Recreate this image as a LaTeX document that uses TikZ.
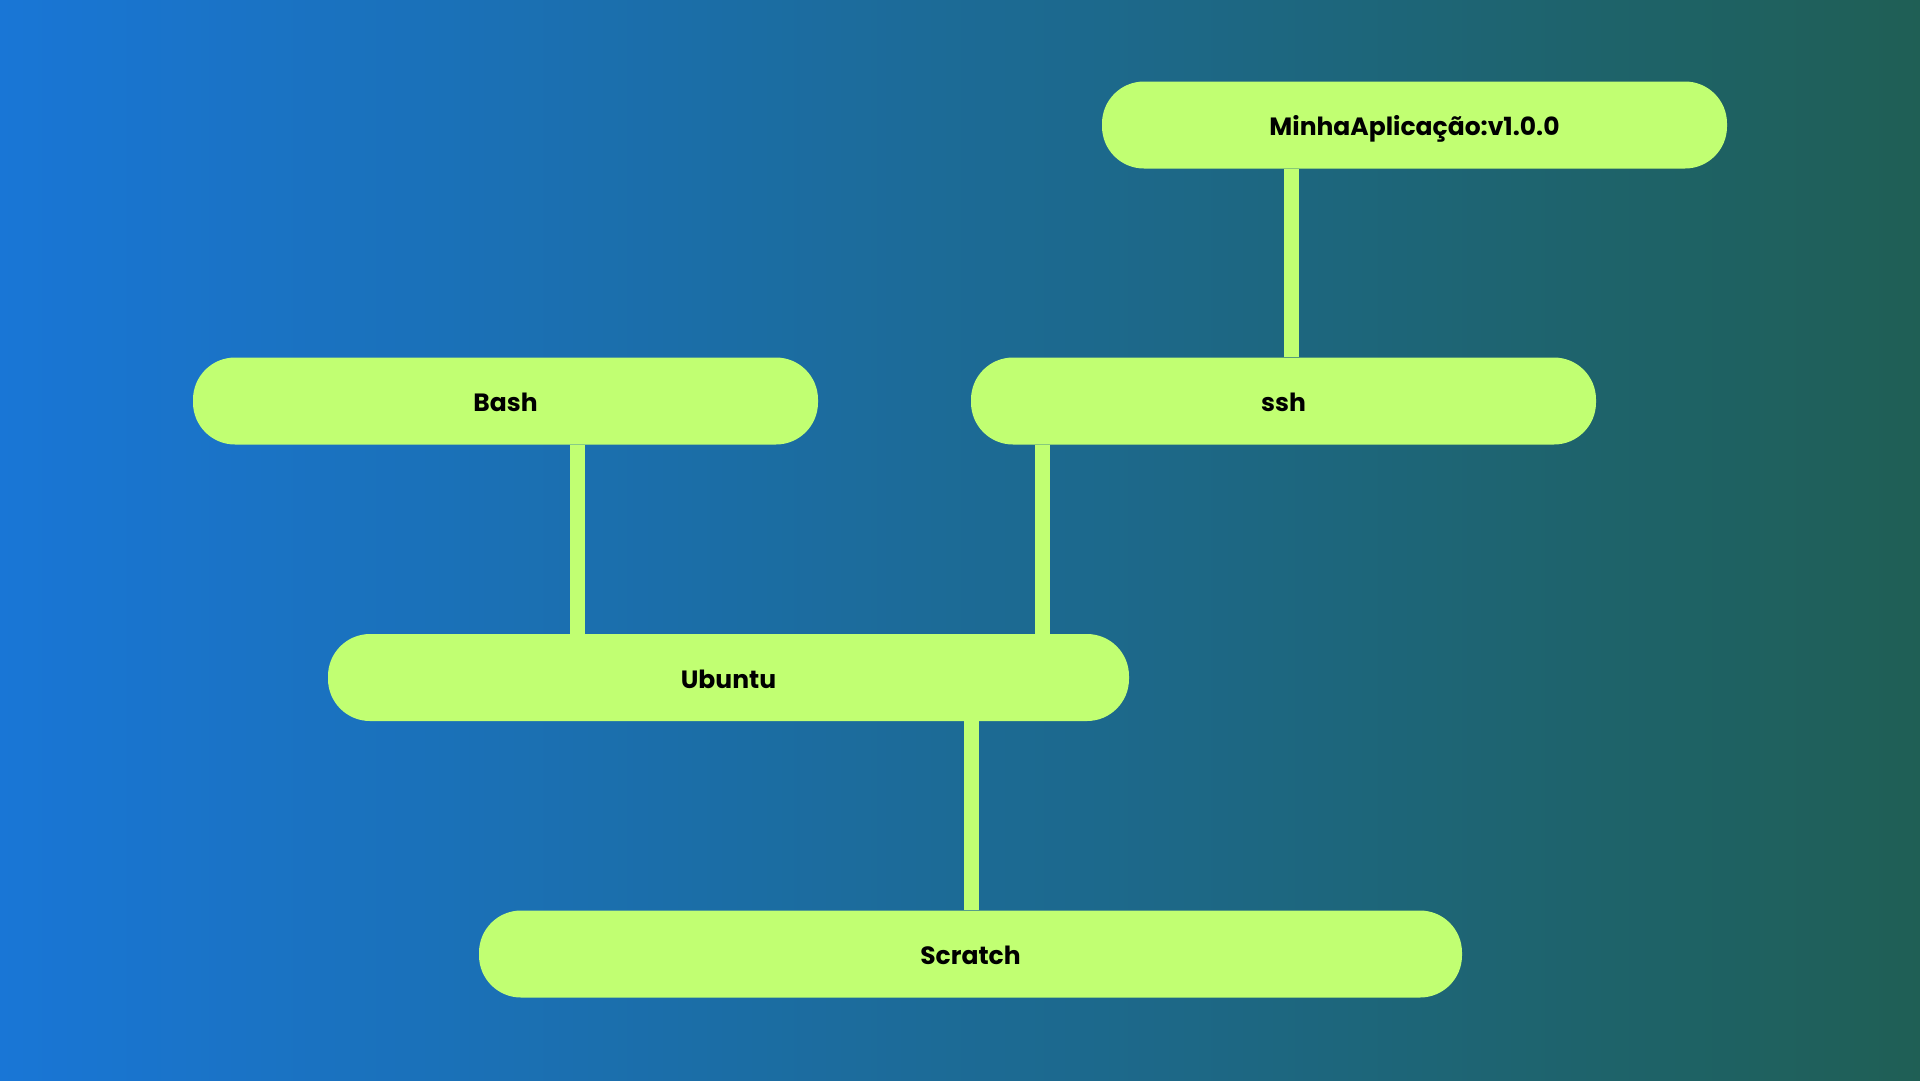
\documentclass[tikz,border=0pt]{standalone}
\usepackage{fontspec}
\setmainfont{Poppins}
\usepackage{tikz}

\definecolor{lime}{RGB}{193,255,114}
\definecolor{bgleft}{RGB}{25,118,214}
\definecolor{bgright}{RGB}{31,95,85}

\begin{document}
\begin{tikzpicture}[
	x=1pt, y=-1pt,
	layer/.style={rectangle, draw=none, rounded corners=42pt, fill=lime,
		minimum height=87pt, text centered, text=black,
		text height=21pt, text depth=0pt,
		font=\fontsize{25}{30}\selectfont\bfseries, inner sep=0pt},
	link/.style={draw=lime, line width=15pt}
	]
	\shade[left color=bgleft, right color=bgright] (0,0) rectangle (1920,1080);
	\useasboundingbox (0,0) rectangle (1920,1080);

	\node (app) [layer, minimum width=625pt] at (1414.5,125) {MinhaAplicação:v1.0.0};
	\node (bash) [layer, minimum width=625pt] at (505.5,401) {Bash};
	\node (ssh) [layer, minimum width=625pt] at (1283.5,401) {ssh};
	\node (ubuntu) [layer, minimum width=801pt] at (728.5,677.5) {Ubuntu};
	\node (scratch) [layer, minimum width=983pt] at (970.5,954) {Scratch};

	% ligacoes entre camadas
	\draw[link] ([xshift=7.5pt]ssh.north) -- ([xshift=7.5pt]ssh.north |- app.south);
	\draw[link] ([xshift=72pt]bash.south) -- ([xshift=72pt]bash.south |- ubuntu.north);
	\draw[link] ([xshift=-241pt]ssh.south) -- ([xshift=-241pt]ssh.south |- ubuntu.north);
	\draw[link] ([xshift=242.5pt]ubuntu.south) -- ([xshift=242.5pt]ubuntu.south |- scratch.north);
\end{tikzpicture}
\end{document}
